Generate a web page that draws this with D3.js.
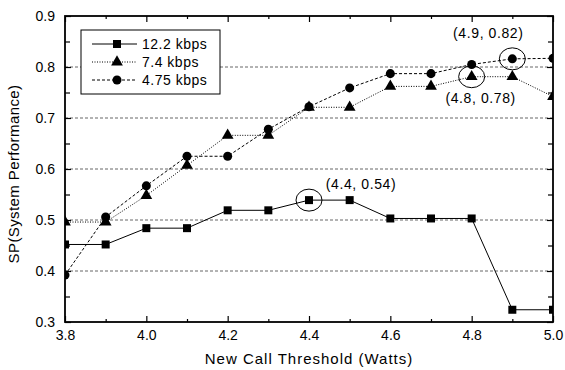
<!DOCTYPE html>
<html>
<head>
<meta charset="utf-8">
<script src="https://cdn.jsdelivr.net/npm/d3@7"></script>
<style>
  body { margin: 0; background: #fff; }
  svg { display: block; font-family: "Liberation Sans", Arial, sans-serif; }
</style>
</head>
<body>
<svg id="chart" width="565" height="370"></svg>
<script>
// data
const thresholds = [3.8, 3.9, 4.0, 4.1, 4.2, 4.3, 4.4, 4.5, 4.6, 4.7, 4.8, 4.9, 5.0];
const sp122 = [0.452, 0.452, 0.484, 0.484, 0.519, 0.519, 0.539, 0.539, 0.503, 0.503, 0.503, 0.324, 0.324];
const sp74  = [0.496, 0.496, 0.548, 0.607, 0.666, 0.666, 0.721, 0.721, 0.762, 0.762, 0.781, 0.781, 0.742];
const sp475 = [0.392, 0.506, 0.567, 0.625, 0.625, 0.678, 0.722, 0.759, 0.787, 0.787, 0.805, 0.816, 0.817];
const seriesNames = ["12.2 kbps", "7.4 kbps", "4.75 kbps"];
const xTicks = [3.8, 4.0, 4.2, 4.4, 4.6, 4.8, 5.0];
const yTicks = [0.3, 0.4, 0.5, 0.6, 0.7, 0.8, 0.9];
const gridVals = [0.4, 0.5, 0.6, 0.7, 0.8];
const notes = [
  {x: 4.9, y: 0.816, label: "(4.9, 0.82)"},
  {x: 4.8, y: 0.781, label: "(4.8, 0.78)"},
  {x: 4.4, y: 0.539, label: "(4.4, 0.54)"}
];

const margin = {top: 16, right: 12, bottom: 48, left: 65};
const width = 565 - margin.left - margin.right;
const height = 370 - margin.top - margin.bottom;

const svg = d3.select("#chart");
const g = svg.append("g").attr("transform", "translate(" + margin.left + "," + margin.top + ")");

const x = d3.scaleLinear().domain([3.8, 5.0]).range([0, width]);
const y = d3.scaleLinear().domain([0.3, 0.9]).range([height, 0]);

svg.append("defs").append("clipPath").attr("id", "plotclip")
  .append("rect").attr("width", width).attr("height", height);

// grid
g.selectAll(".grid").data(gridVals).enter().append("line")
  .attr("x1", 0).attr("x2", width)
  .attr("y1", d => y(d)).attr("y2", d => y(d))
  .attr("stroke", "#666").attr("stroke-width", 1)
  .attr("stroke-dasharray", "3,2");

// axes (ticks point inward, mirrored on all sides)
const xMinor = d3.range(3.9, 5.0, 0.2).map(v => +v.toFixed(1));
const yMinor = d3.range(0.35, 0.9, 0.1).map(v => +v.toFixed(2));

function styleAxis(sel, showText) {
  sel.select(".domain").remove();
  sel.selectAll("line").attr("stroke", "#000").attr("stroke-width", 1.2);
  sel.selectAll("text").attr("font-size", 14).attr("fill", "#000")
    .attr("font-family", "Liberation Sans, Arial, sans-serif");
  if (!showText) sel.selectAll("text").remove();
}

g.append("g").attr("transform", "translate(0," + height + ")")
  .call(d3.axisBottom(x).tickValues(xTicks).tickFormat(d3.format(".1f")).tickSize(-6).tickPadding(8))
  .call(s => styleAxis(s, true));
g.append("g").attr("transform", "translate(0," + height + ")")
  .call(d3.axisBottom(x).tickValues(xMinor).tickSize(-3))
  .call(s => styleAxis(s, false));
g.append("g")
  .call(d3.axisTop(x).tickValues(xTicks).tickSize(-6))
  .call(s => styleAxis(s, false));
g.append("g")
  .call(d3.axisTop(x).tickValues(xMinor).tickSize(-3))
  .call(s => styleAxis(s, false));

g.append("g")
  .call(d3.axisLeft(y).tickValues(yTicks).tickFormat(d3.format(".1f")).tickSize(-6).tickPadding(10))
  .call(s => styleAxis(s, true));
g.append("g")
  .call(d3.axisLeft(y).tickValues(yMinor).tickSize(-5))
  .call(s => styleAxis(s, false));
g.append("g").attr("transform", "translate(" + width + ",0)")
  .call(d3.axisRight(y).tickValues(yTicks).tickSize(-6))
  .call(s => styleAxis(s, false));
g.append("g").attr("transform", "translate(" + width + ",0)")
  .call(d3.axisRight(y).tickValues(yMinor).tickSize(-5))
  .call(s => styleAxis(s, false));

// frame
g.append("rect").attr("width", width).attr("height", height)
  .attr("fill", "none").attr("stroke", "#000").attr("stroke-width", 1.8);

// series
const series = [
  {name: seriesNames[0], values: sp122, dash: null, sym: d3.symbolSquare, size: 64},
  {name: seriesNames[1], values: sp74, dash: "1,1.5", sym: d3.symbolTriangle, size: 60},
  {name: seriesNames[2], values: sp475, dash: "3,2", sym: d3.symbolCircle, size: 64}
];

const line = d3.line().x(d => x(d[0])).y(d => y(d[1]));
const plot = g.append("g").attr("clip-path", "url(#plotclip)");

series.forEach(s => {
  const pts = thresholds.map((t, i) => [t, s.values[i]]);
  plot.append("path").datum(pts)
    .attr("d", line).attr("fill", "none").attr("stroke", "#000").attr("stroke-width", 1)
    .attr("stroke-dasharray", s.dash);
  plot.selectAll(null).data(pts).enter().append("path")
    .attr("transform", d => "translate(" + x(d[0]) + "," + y(d[1]) + ")")
    .attr("d", d3.symbol().type(s.sym).size(s.size))
    .attr("fill", "#000");
});

// annotations
const noteOffsets = [{dx: -24, dy: -21}, {dx: 9, dy: 26}, {dx: 52, dy: -11}];
notes.forEach((n, i) => {
  g.append("ellipse")
    .attr("cx", x(n.x)).attr("cy", y(n.y))
    .attr("rx", 13).attr("ry", 11)
    .attr("fill", "none").attr("stroke", "#000").attr("stroke-width", 1);
  g.append("text")
    .attr("x", x(n.x) + noteOffsets[i].dx).attr("y", y(n.y) + noteOffsets[i].dy)
    .attr("text-anchor", "middle").attr("font-size", 14).attr("letter-spacing", 0.6)
    .text(n.label);
});

// legend
const leg = g.append("g").attr("transform", "translate(16,14)");
leg.append("rect").attr("width", 139).attr("height", 64)
  .attr("fill", "#fff").attr("stroke", "#000").attr("stroke-width", 1);
series.forEach((s, i) => {
  const row = leg.append("g").attr("transform", "translate(0," + (14 + i * 18) + ")");
  row.append("line").attr("x1", 11).attr("x2", 56)
    .attr("stroke", "#000").attr("stroke-width", 1).attr("stroke-dasharray", s.dash);
  row.append("path").attr("transform", "translate(36,0)")
    .attr("d", d3.symbol().type(s.sym).size(s.size)).attr("fill", "#000");
  row.append("text").attr("x", 61).attr("y", 5).attr("font-size", 14).attr("letter-spacing", 0.5).text(s.name);
});

// axis titles
svg.append("text")
  .attr("x", margin.left + width / 2).attr("y", 364)
  .attr("text-anchor", "middle").attr("font-size", 15).attr("letter-spacing", 1)
  .text("New Call Threshold (Watts)");
svg.append("text")
  .attr("transform", "translate(19," + (margin.top + height / 2 + 5) + ") rotate(-90)")
  .attr("text-anchor", "middle").attr("font-size", 15).attr("letter-spacing", 0.4)
  .text("SP(System Performance)");
</script>
</body>
</html>
